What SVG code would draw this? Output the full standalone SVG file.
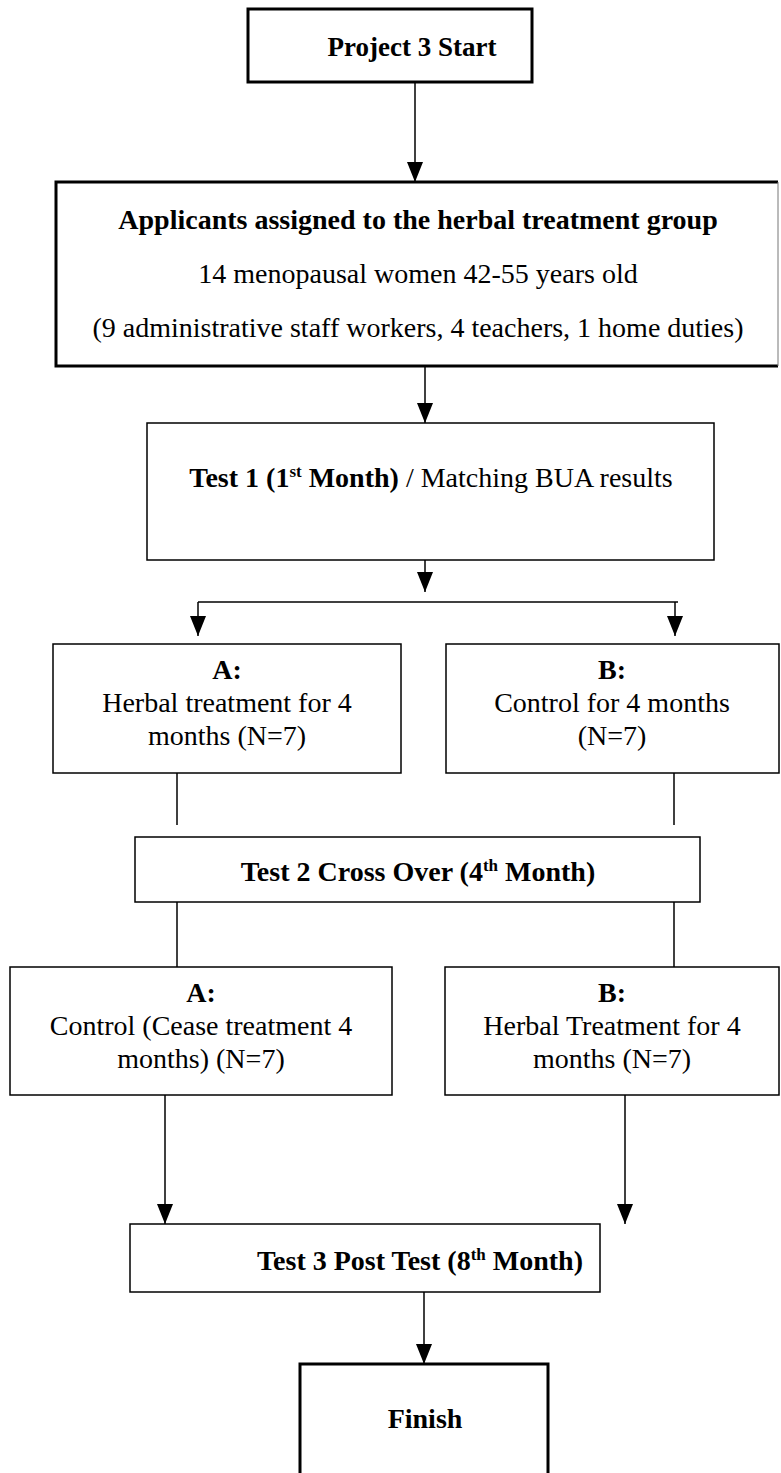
<svg xmlns="http://www.w3.org/2000/svg" width="781" height="1473" viewBox="0 0 781 1473">
  <style>
    text { font-family: "Liberation Serif", "Times New Roman", serif; font-size: 28px; fill: #000; text-anchor: middle; }
    .b { font-weight: bold; }
    .sup { font-size: 17px; }
    .thick { fill: #fff; stroke: #000; stroke-width: 3; }
    .thin { fill: #fff; stroke: #000; stroke-width: 1.5; }
    .wire { stroke: #000; stroke-width: 1.5; fill: none; }
  </style>
  <defs>
    <!-- solid triangular arrowhead, tip at the end of the line -->
    <marker id="head" viewBox="0 0 20 16" refX="20" refY="8" markerWidth="20" markerHeight="16" markerUnits="userSpaceOnUse" orient="auto">
      <path d="M0,0 L20,8 L0,16 Z" fill="#000"/>
    </marker>
  </defs>

  <!-- connectors -->
  <g id="connectors">
    <line class="wire" x1="415" y1="82" x2="415" y2="182" marker-end="url(#head)"/>
    <line class="wire" x1="425" y1="366" x2="425" y2="423" marker-end="url(#head)"/>
    <line class="wire" x1="425" y1="560" x2="425" y2="592" marker-end="url(#head)"/>
    <line class="wire" x1="198" y1="602" x2="678" y2="602"/>
    <line class="wire" x1="198" y1="602" x2="198" y2="636" marker-end="url(#head)"/>
    <line class="wire" x1="675" y1="602" x2="675" y2="636" marker-end="url(#head)"/>
    <line class="wire" x1="177" y1="773" x2="177" y2="825"/>
    <line class="wire" x1="674" y1="773" x2="674" y2="825"/>
    <line class="wire" x1="177" y1="902" x2="177" y2="967"/>
    <line class="wire" x1="674" y1="902" x2="674" y2="972"/>
    <line class="wire" x1="165" y1="1095" x2="165" y2="1224" marker-end="url(#head)"/>
    <line class="wire" x1="625" y1="1095" x2="625" y2="1224" marker-end="url(#head)"/>
    <line class="wire" x1="424" y1="1292" x2="424" y2="1364" marker-end="url(#head)"/>
  </g>

  <!-- Project 3 Start -->
  <g id="start">
    <rect class="thick" x="248" y="9" width="284" height="73"/>
    <text class="b" x="412" y="56" style="font-size:27px">Project 3 Start</text>
  </g>

  <!-- herbal treatment group -->
  <g id="applicants">
    <path d="M778,182 H56 V366 H778" fill="#fff" stroke="#000" stroke-width="3"/>
    <line x1="778" y1="182" x2="778" y2="366" stroke="#777" stroke-width="1"/>
    <text class="b" x="418" y="229">Applicants assigned to the herbal treatment group</text>
    <text x="418" y="283">14 menopausal women 42-55 years old</text>
    <text x="418" y="337">(9 administrative staff workers, 4 teachers, 1 home duties)</text>
  </g>

  <!-- Test 1 -->
  <g id="test1">
    <rect class="thin" x="147" y="423" width="567" height="137"/>
    <text x="431" y="487"><tspan class="b">Test 1 (1<tspan class="sup" dy="-10">st</tspan><tspan dy="10"> Month)</tspan></tspan> / Matching BUA results</text>
  </g>

  <!-- A: herbal treatment -->
  <g id="groupA1">
    <rect class="thin" x="53" y="644" width="348" height="129"/>
    <text class="b" x="227" y="679">A:</text>
    <text x="227" y="712">Herbal treatment for 4</text>
    <text x="227" y="745">months (N=7)</text>
  </g>

  <!-- B: control -->
  <g id="groupB1">
    <rect class="thin" x="446" y="644" width="333" height="129"/>
    <text class="b" x="612" y="679">B:</text>
    <text x="612" y="712">Control for 4 months</text>
    <text x="612" y="745">(N=7)</text>
  </g>

  <!-- Test 2 -->
  <g id="test2">
    <rect class="thin" x="135" y="837" width="565" height="65"/>
    <text class="b" x="418" y="881">Test 2 Cross Over (4<tspan class="sup" dy="-10">th</tspan><tspan dy="10"> Month)</tspan></text>
  </g>

  <!-- A: control -->
  <g id="groupA2">
    <rect class="thin" x="10" y="967" width="382" height="128"/>
    <text class="b" x="201" y="1002">A:</text>
    <text x="201" y="1035">Control (Cease treatment 4</text>
    <text x="201" y="1068">months) (N=7)</text>
  </g>

  <!-- B: herbal treatment -->
  <g id="groupB2">
    <rect class="thin" x="445" y="967" width="334" height="128"/>
    <text class="b" x="612" y="1002">B:</text>
    <text x="612" y="1035">Herbal Treatment for 4</text>
    <text x="612" y="1068">months (N=7)</text>
  </g>

  <!-- Test 3 -->
  <g id="test3">
    <rect class="thin" x="130" y="1224" width="470" height="68"/>
    <text class="b" x="420" y="1270">Test 3 Post Test (8<tspan class="sup" dy="-10">th</tspan><tspan dy="10"> Month)</tspan></text>
  </g>

  <!-- Finish -->
  <g id="finish">
    <rect class="thick" x="300" y="1364" width="248" height="130"/>
    <text class="b" x="425" y="1428">Finish</text>
  </g>
</svg>
